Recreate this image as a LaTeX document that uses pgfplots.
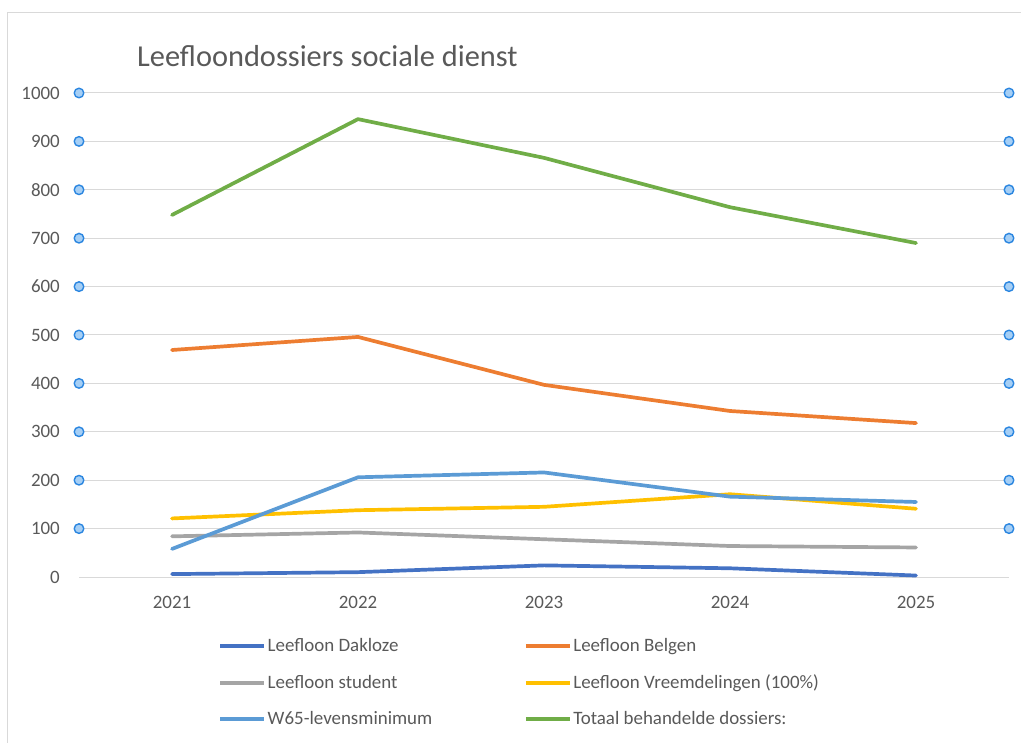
\documentclass[border=0pt]{standalone}
\usepackage{fontspec}
\setmainfont{Carlito}
\usepackage{pgfplots}
\pgfplotsset{compat=1.18}

\definecolor{sBlue}{HTML}{4472C4}
\definecolor{sOrange}{HTML}{ED7D31}
\definecolor{sGray}{HTML}{A5A5A5}
\definecolor{sYellow}{HTML}{FFC000}
\definecolor{sLight}{HTML}{5B9BD5}
\definecolor{sGreen}{HTML}{70AD47}
\definecolor{gridGray}{HTML}{D9D9D9}
\definecolor{txtGray}{HTML}{595959}
\definecolor{hdlEdge}{HTML}{2B86E0}
\definecolor{hdlFill}{HTML}{A6CFF5}

\begin{document}
\begin{tikzpicture}
\path[use as bounding box] (0bp,0bp) rectangle (1021bp,743bp);
% chart frame
\draw[gridGray, line width=1bp] (7bp,0bp) -- (7bp,730bp) -- (1021bp,730bp);
\node[anchor=base west, inner sep=0pt, text=txtGray,
      font=\fontsize{30.5}{36}\selectfont] at (137bp,676bp) {Leefloondossiers sociale dienst};

\begin{axis}[
    at={(79bp,166bp)}, anchor=south west,
    scale only axis, width=930bp, height=484bp,
    xmin=2020.5, xmax=2025.5, ymin=0, ymax=1000,
    xtick={2021,2022,2023,2024,2025},
    ytick={0,100,...,1000},
    separate axis lines,
    axis x line*=bottom, axis y line*=left,
    x axis line style={gridGray, line width=1bp},
    y axis line style={draw=none},
    ymajorgrids, grid style={gridGray, line width=1bp},
    major tick length=0pt,
    /pgf/number format/1000 sep={},
    /pgf/number format/assume math mode=true,
    tick label style={font=\fontsize{19}{23}\selectfont, text=txtGray},
    yticklabel style={anchor=east, inner sep=0pt, xshift=-19bp},
    xticklabel style={anchor=north, inner sep=0pt, yshift=-19bp},
    clip=false,
    every axis plot/.append style={line width=3.7bp, line join=round, line cap=round},
    legend columns=2, legend cell align=left,
    legend image code/.code={\draw[#1, line cap=butt] (0bp,0bp) -- (44bp,0bp);},
    legend image post style={line width=4bp},
    legend style={draw=none, fill=none, at={(0.1495,-0.1242)}, anchor=north west,
        font=\fontsize{19}{23}\selectfont, text=txtGray, inner sep=0pt,
        row sep=18.5bp, nodes={inner sep=1.5bp},
        /tikz/every even column/.append style={column sep=90bp}},
]
\addplot[sBlue] coordinates {(2021,6) (2022,10) (2023,24) (2024,18) (2025,3)};
\addlegendentry{Leefloon Dakloze}
\addplot[sOrange] coordinates {(2021,469) (2022,496) (2023,397) (2024,343) (2025,318)};
\addlegendentry{Leefloon Belgen}
\addplot[sGray] coordinates {(2021,84) (2022,92) (2023,78) (2024,64) (2025,61)};
\addlegendentry{Leefloon student}
\addplot[sYellow] coordinates {(2021,121) (2022,138) (2023,145) (2024,171) (2025,141)};
\addlegendentry{Leefloon Vreemdelingen (100\%)}
\addplot[sLight] coordinates {(2021,58) (2022,206) (2023,216) (2024,166) (2025,155)};
\addlegendentry{W65-levensminimum}
\addplot[sGreen] coordinates {(2021,748) (2022,946) (2023,866) (2024,764) (2025,690)};
\addlegendentry{Totaal behandelde dossiers:}

% selection handles on the gridlines
\addplot[only marks, forget plot, mark=*, mark size=4.8bp,
    mark options={draw=hdlEdge, fill=hdlFill, line width=1.4bp}] coordinates {
(2020.5,100) (2020.5,200) (2020.5,300) (2020.5,400) (2020.5,500)
(2020.5,600) (2020.5,700) (2020.5,800) (2020.5,900) (2020.5,1000)
(2025.5,100) (2025.5,200) (2025.5,300) (2025.5,400) (2025.5,500)
(2025.5,600) (2025.5,700) (2025.5,800) (2025.5,900) (2025.5,1000)
};
\end{axis}
\end{tikzpicture}
\end{document}
